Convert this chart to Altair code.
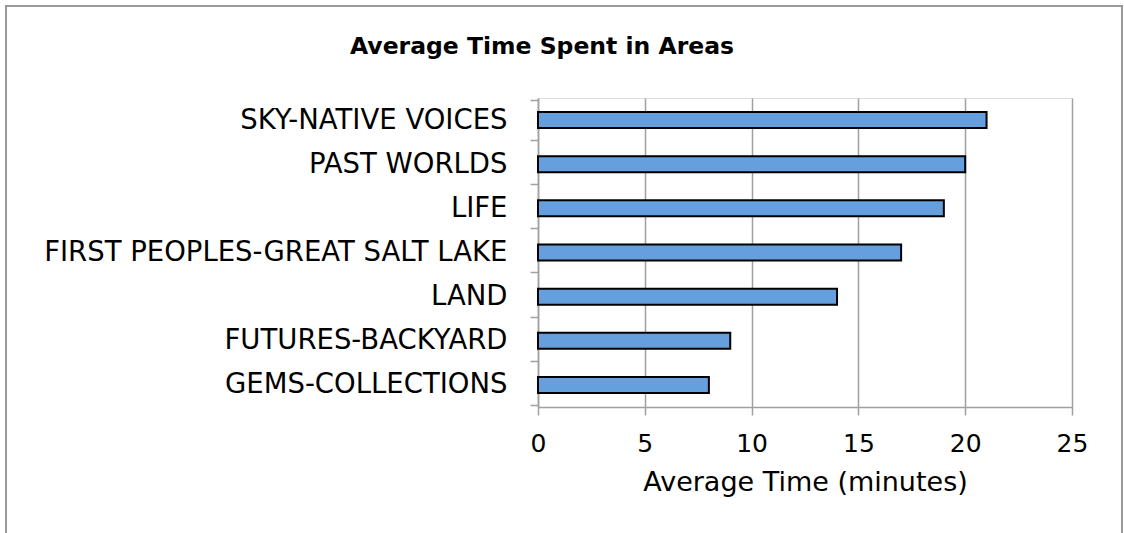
import altair as alt
import pandas as pd

areas = ["SKY-NATIVE VOICES", "PAST WORLDS", "LIFE", "FIRST PEOPLES-GREAT SALT LAKE",
         "LAND", "FUTURES-BACKYARD", "GEMS-COLLECTIONS"]
minutes = [21, 20, 19, 17, 14, 9, 8]
x_ticks = [0, 5, 10, 15, 20, 25]
title_text = "Average Time Spent in Areas"

df = pd.DataFrame({"area": areas, "minutes": minutes})

FONT = "DejaVu Sans"
GRID = "#a0a0a0"

bars = alt.Chart(df).mark_bar(
    size=16, color="#659fdd", stroke="black", strokeWidth=2
).encode(
    x=alt.X("minutes:Q",
            scale=alt.Scale(domain=[0, 25], nice=False),
            axis=alt.Axis(values=x_ticks, title="Average Time (minutes)",
                          grid=True, gridColor=GRID, gridWidth=1.5,
                          domainColor=GRID, domainWidth=1.5,
                          tickColor=GRID, tickWidth=1.5, tickSize=8,
                          labelFont=FONT, labelFontSize=25, labelColor="black",
                          labelPadding=16, labelFlush=False,
                          titleFont=FONT, titleFontSize=27, titleFontWeight="normal",
                          titleColor="black", titlePadding=13)),
    y=alt.Y("area:N", sort=areas,
            axis=alt.Axis(title=None, grid=False, tickBand="extent",
                          domainColor=GRID, domainWidth=1.5,
                          tickColor=GRID, tickWidth=1.5, tickSize=8,
                          labelFont=FONT, labelFontSize=27.5, labelColor="black",
                          labelPadding=23, labelLimit=700)),
)

border = alt.Chart(df).mark_rect(
    fill=None, stroke="#9a9a9a", strokeWidth=2, clip=False
).encode(
    x=alt.value(-532), x2=alt.value(584), y=alt.value(-92), y2=alt.value(460)
)

title = alt.Chart(pd.DataFrame({"t": [title_text]})).mark_text(
    font=FONT, fontSize=23.5, fontWeight="bold", color="black",
    align="center", baseline="middle", clip=False
).encode(
    text="t:N", x=alt.value(4), y=alt.value(-51)
)

chart = alt.layer(border, bars, title).properties(
    width=534, height=309,
    padding={"left": 538, "top": 98, "right": 52, "bottom": 127},
    autosize=alt.AutoSizeParams(type="none"),
).configure_view(stroke=None).configure(background="white")

chart.save("out.html", embed_options={"renderer": "svg", "actions": False})
